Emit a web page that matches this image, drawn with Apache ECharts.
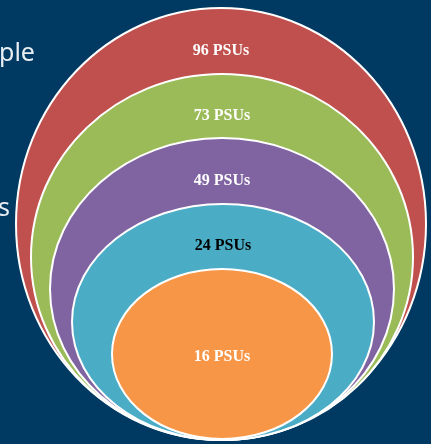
<!DOCTYPE html>
<html>
<head>
<meta charset="utf-8">
<style>
html,body{margin:0;padding:0;background:#003a63;}
#chart{width:431px;height:444px;}
</style>
<script src="https://cdn.jsdelivr.net/npm/echarts@6/dist/echarts.min.js"></script>
</head>
<body>
<div id="chart"></div>
<script>
// Data
const levels = ['96 PSUs', '73 PSUs', '49 PSUs', '24 PSUs', '16 PSUs'];
const psuCounts = [96, 73, 49, 24, 16];
const sideTexts = ['ple', 's'];

// Layout (positions / sizes in the hidden axis units)
const ringLayout = [
  { cx: 221, cy: 224, rx: 205, ry: 216, labelY: 51 },
  { cx: 222, cy: 257, rx: 191, ry: 183, labelY: 116 },
  { cx: 222, cy: 289, rx: 172, ry: 151, labelY: 181 },
  { cx: 223, cy: 322, rx: 151, ry: 118, labelY: 246 },
  { cx: 222, cy: 354, rx: 110, ry: 85, labelY: 357 }
];
const sideLayout = [ { x: -1, y: 66 }, { x: -2, y: 221 } ];
const ringColors = ['#c0504d', '#9bbb59', '#8064a2', '#4bacc6', '#f79646'];
const labelColors = ['#ffffff', '#ffffff', '#ffffff', '#000000', '#ffffff'];

const chart = echarts.init(document.getElementById('chart'));
chart.setOption({
  backgroundColor: '#003a63',
  animation: false,
  grid: { left: 0, right: 0, top: 0, bottom: 0 },
  xAxis: { type: 'value', min: 0, max: 431, show: false },
  yAxis: { type: 'value', min: 0, max: 444, inverse: true, show: false },
  series: [
    {
      type: 'custom',
      coordinateSystem: 'cartesian2d',
      data: psuCounts.map((v, i) => [i, v]),
      renderItem: function (params, api) {
        const i = api.value(0);
        const g = ringLayout[i];
        const c = api.coord([g.cx, g.cy]);
        const s = api.size([g.rx, g.ry]);
        const lp = api.coord([g.cx, g.labelY]);
        return {
          type: 'group',
          children: [
            {
              type: 'ellipse',
              shape: { cx: c[0], cy: c[1], rx: s[0], ry: s[1] },
              style: { fill: ringColors[i], stroke: '#ffffff', lineWidth: 2 }
            },
            {
              type: 'text',
              x: lp[0], y: lp[1],
              style: {
                text: levels[i],
                fill: labelColors[i],
                font: 'bold 16px "Liberation Serif", "Times New Roman", serif',
                align: 'center',
                verticalAlign: 'middle'
              }
            }
          ]
        };
      }
    },
    {
      type: 'custom',
      coordinateSystem: 'cartesian2d',
      data: sideTexts.map((t, i) => [i]),
      renderItem: function (params, api) {
        const i = api.value(0);
        const p = api.coord([sideLayout[i].x, sideLayout[i].y]);
        return {
          type: 'text',
          x: p[0], y: p[1],
          style: {
            text: sideTexts[i],
            fill: '#e9eef3',
            font: '25px "Noto Sans", "Open Sans", sans-serif',
            align: 'left',
            verticalAlign: 'bottom'
          }
        };
      }
    }
  ]
});
</script>
</body>
</html>
